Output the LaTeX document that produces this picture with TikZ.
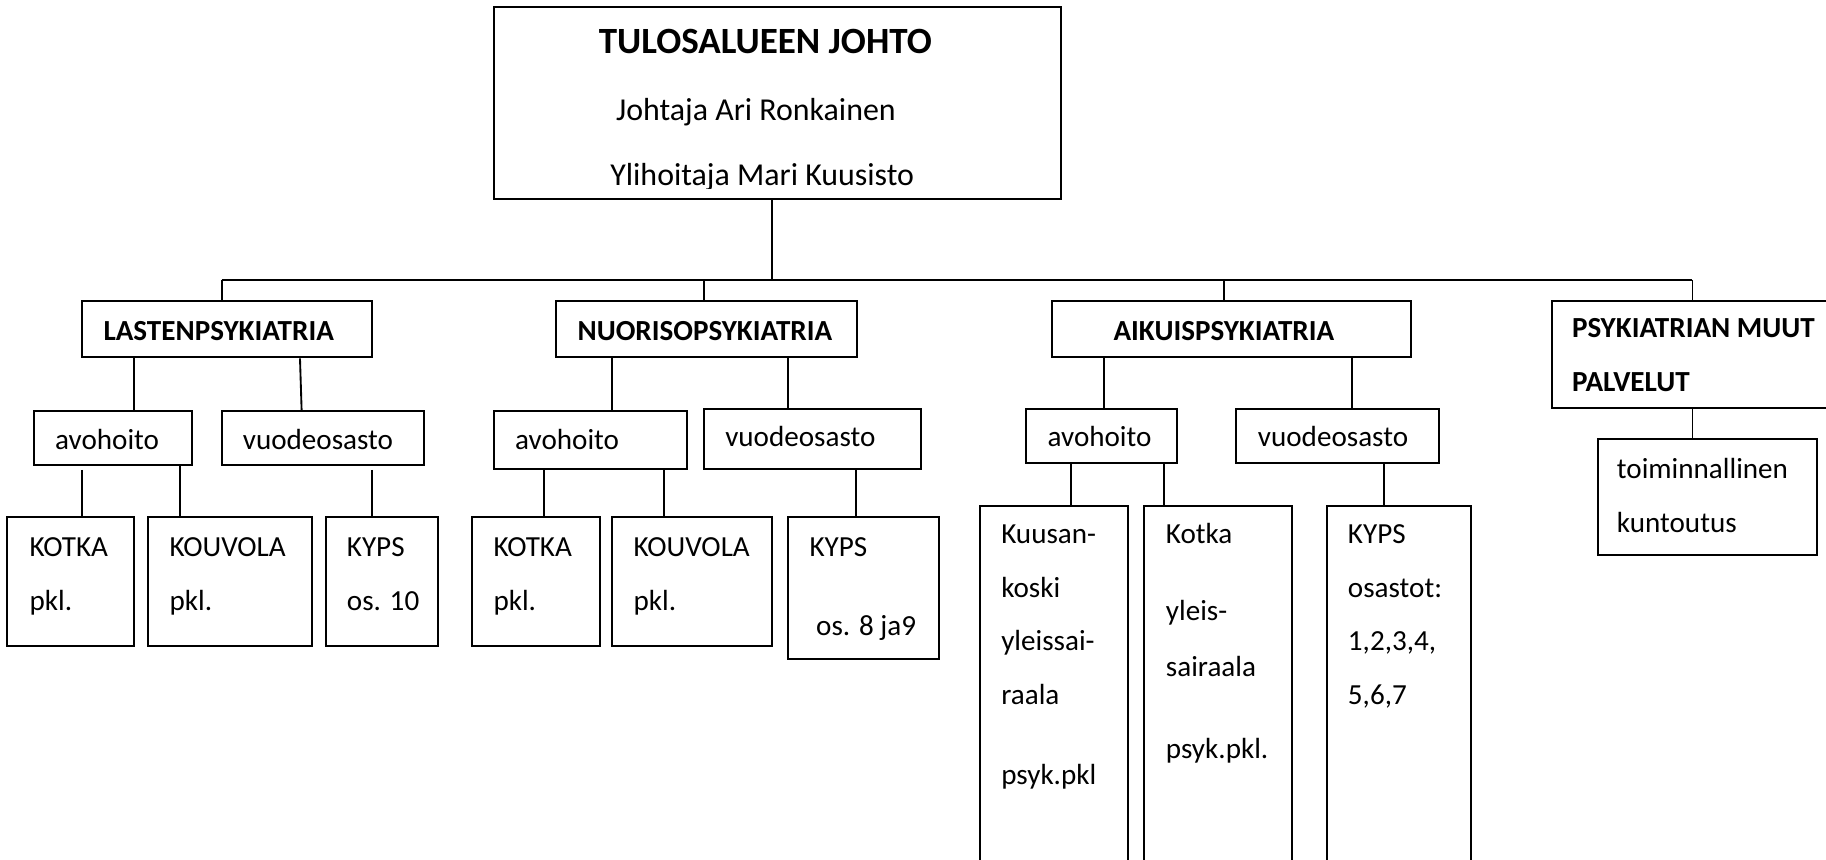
\documentclass[tikz,border=0pt]{standalone}
\usepackage{fontspec}
\setmainfont{Carlito}
\usetikzlibrary{fit}
\tikzset{
  box/.style={draw, line width=1.7pt, inner sep=0pt, rectangle},
  conn/.style={line width=1.6pt},
  txt/.style={anchor=base west, inner sep=0pt, font=\fontsize{25}{30}\selectfont},
  hd/.style={anchor=base west, inner sep=0pt, font=\bfseries\fontsize{25}{30}\selectfont},
  toptxt/.style={anchor=base west, inner sep=0pt, font=\fontsize{27.4}{32}\selectfont},
  toptitle/.style={anchor=base west, inner sep=0pt, font=\bfseries\fontsize{31.8}{36}\selectfont}
}
\begin{document}
\begin{tikzpicture}[x=1pt,y=-1pt]
\useasboundingbox (0,0) rectangle (1568,738);
\fill[white] (0,0) rectangle (1568,738);
\clip (0,0) rectangle (1568,738);

% ---------- boxes ----------
\node[box, fit={(424.4,5.7) (910.7,170.9)}] (top) {};
\node[box, fit={(70.1,258.5) (319.7,306.9)}] (lasten) {};
\node[box, fit={(477.4,258.5) (735.6,306.9)}] (nuoriso) {};
\node[box, fit={(903.4,258.6) (1211.4,306.7)}] (aikuis) {};
\node[box, fit={(1332.8,258.5) (1585,350.7)}] (muut) {};

\node[box, fit={(28.9,352.9) (165.2,399.3)}] (lav) {};
\node[box, fit={(190.4,352.9) (364.4,399.3)}] (lvu) {};
\node[box, fit={(424,352.9) (589.7,403)}] (nav) {};
\node[box, fit={(604.6,351.5) (790.6,403)}] (nvu) {};
\node[box, fit={(881,351.3) (1010.5,397.5)}] (aav) {};
\node[box, fit={(1061.4,351.3) (1235.7,397.5)}] (avu) {};
\node[box, fit={(1372,377.3) (1560.6,476.6)}] (toim) {};

\node[box, fit={(6.3,443.9) (115.4,554.4)}] (lkot) {};
\node[box, fit={(126.8,443.9) (268.2,554.4)}] (lkou) {};
\node[box, fit={(279.7,443.9) (376.4,554.4)}] (lkyp) {};
\node[box, fit={(405,443.9) (515.5,554.4)}] (nkot) {};
\node[box, fit={(525.6,443.9) (663.2,554.4)}] (nkou) {};
\node[box, fit={(677,444.2) (806,566.2)}] (nkyp) {};
\node[box, fit={(841.6,434.3) (968.9,760)}] (akuu) {};
\node[box, fit={(982.7,434.3) (1109.8,760)}] (akot) {};
\node[box, fit={(1139.3,434.3) (1262.9,760)}] (akyp) {};

% ---------- connectors ----------
\coordinate (busL) at (190.4,240.4);
\coordinate (busR) at (1453.3,240.4);
\draw[conn] (busL) -- (busR);
\draw[conn] (663.2,0 |- top.south) -- (663.2,0 |- busL);
\draw[conn] (busL) -- (busL |- lasten.north);
\draw[conn] (604.8,0 |- busL) -- (604.8,0 |- nuoriso.north);
\draw[conn] (1051.4,0 |- busL) -- (1051.4,0 |- aikuis.north);
\draw[conn] (busR) -- (busR |- muut.north);

\draw[conn] (115.1,0 |- lasten.south) -- (115.1,0 |- lav.north);
\draw[conn] (257.6,0 |- lasten.south) -- (259,0 |- lvu.north);
\draw[conn, shorten <=3.4pt] (70.4,0 |- lav.south) -- (70.4,0 |- lkot.north);
\draw[conn] (154.6,0 |- lav.south) -- (154.6,0 |- lkou.north);
\draw[conn, shorten <=3.4pt] (319.7,0 |- lvu.south) -- (319.7,0 |- lkyp.north);

\draw[conn] (525.8,0 |- nuoriso.south) -- (525.8,0 |- nav.north);
\draw[conn] (677,0 |- nuoriso.south) -- (677,0 |- nvu.north);
\draw[conn] (467.4,0 |- nav.south) -- (467.4,0 |- nkot.north);
\draw[conn] (570.5,0 |- nav.south) -- (570.5,0 |- nkou.north);
\draw[conn] (735.4,0 |- nvu.south) -- (735.4,0 |- nkyp.north);

\draw[conn] (948,0 |- aikuis.south) -- (948,0 |- aav.north);
\draw[conn] (1161.3,0 |- aikuis.south) -- (1161.3,0 |- avu.north);
\draw[conn] (919.4,0 |- aav.south) -- (919.4,0 |- akuu.north);
\draw[conn] (999.8,0 |- aav.south) -- (999.8,0 |- akot.north);
\draw[conn] (1188.8,0 |- avu.south) -- (1188.8,0 |- akyp.north);

\draw[conn] (busR |- muut.south) -- (busR |- toim.north);

% ---------- texts ----------
\node[toptitle] (t-title) at (514,45.8) {TULOSALUEEN JOHTO};
\node[toptxt] (t-joht) at (528.9,103.6) {Johtaja Ari Ronkainen};
\begin{scope}
\clip (424,120) rectangle (911,161.7);
\node[toptxt] (t-yli) at (523.9,158.9) {Ylihoitaja Mari Kuusisto};
\end{scope}

\node[hd] (t-lasten) at (88.7,292) {LASTENPSYKIATRIA};
\node[hd] (t-nuoriso) at (495.8,292) {NUORISOPSYKIATRIA};
\node[hd] (t-aikuis) at (956,292) {AIKUISPSYKIATRIA};
\node[hd] (t-muut1) at (1349.7,290) {PSYKIATRIAN MUUT};
\node[hd] (t-muut2) at (1349.7,336.3) {PALVELUT};

\node[txt] (t-lav) at (47.2,386.4) {avohoito};
\node[txt] (t-lvu) at (208.4,386.4) {vuodeosasto};
\node[txt] (t-nav) at (442.2,386.4) {avohoito};
\node[txt] (t-nvu) at (622.6,383.6) {vuodeosasto};
\node[txt] (t-aav) at (899.4,383.6) {avohoito};
\node[txt] (t-avu) at (1080,383.6) {vuodeosasto};
\node[txt] (t-toim1) at (1388.3,411) {toiminnallinen};
\node[txt] (t-toim2) at (1388.3,457) {kuntoutus};

\node[txt] (t-lkot1) at (25.2,478) {KOTKA};
\node[txt] (t-lkot2) at (25.2,524.4) {pkl.};
\node[txt] (t-lkou1) at (145.4,478) {KOUVOLA};
\node[txt] (t-lkou2) at (145.4,524.4) {pkl.};
\node[txt] (t-lkyp1) at (297.7,478) {KYPS};
\node[txt] (t-lkyp2) at (297.7,524.4) {os. 10};

\node[txt] (t-nkot1) at (423.6,478) {KOTKA};
\node[txt] (t-nkot2) at (423.6,524.4) {pkl.};
\node[txt] (t-nkou1) at (543.9,478) {KOUVOLA};
\node[txt] (t-nkou2) at (543.9,524.4) {pkl.};
\node[txt] (t-nkyp1) at (695,478) {KYPS};
\node[txt] (t-nkyp2) at (700.7,545.3) {os. 8 ja9};

\node[txt] (t-akuu1) at (859.6,467) {Kuusan-};
\node[txt] (t-akuu2) at (859.6,513) {koski};
\node[txt] (t-akuu3) at (859.6,559) {yleissai-};
\node[txt] (t-akuu4) at (859.6,605) {raala};
\node[txt] (t-akuu5) at (859.6,674) {psyk.pkl};

\node[txt] (t-akot1) at (1001,467) {Kotka};
\node[txt] (t-akot2) at (1001,533) {yleis-};
\node[txt] (t-akot3) at (1001,581) {sairaala};
\node[txt] (t-akot4) at (1001,651) {psyk.pkl.};

\node[txt] (t-akyp1) at (1157.3,467) {KYPS};
\node[txt] (t-akyp2) at (1157.3,513) {osastot:};
\node[txt] (t-akyp3) at (1157.3,559) {1,2,3,4,};
\node[txt] (t-akyp4) at (1157.3,605) {5,6,7};
\end{tikzpicture}
\end{document}
